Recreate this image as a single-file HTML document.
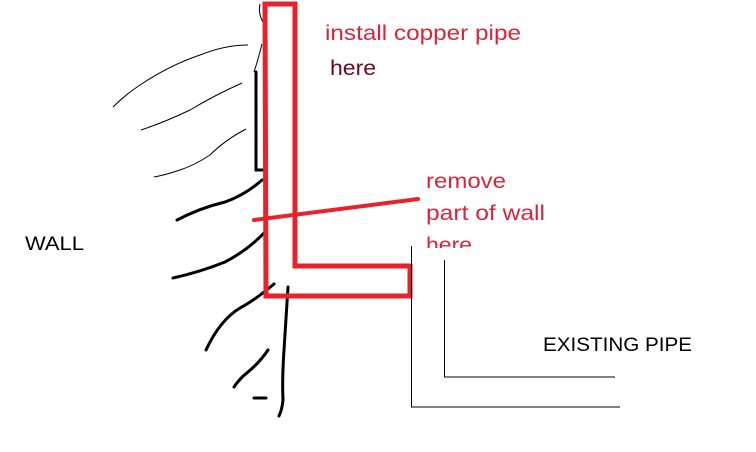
<!DOCTYPE html>
<html><head><style>
html,body{margin:0;padding:0;background:#fff;}
svg{display:block;}
text{font-family:"Liberation Sans","DejaVu Sans",sans-serif;}
</style></head><body>
<svg width="756" height="452" viewBox="0 0 756 452" xmlns="http://www.w3.org/2000/svg">
<rect width="756" height="452" fill="#fff"/>
<g fill="none" stroke="#000" stroke-width="1">
<path d="M260,4 Q258,14 263,22"/>
<path d="M248,45 Q225,45 200,55 Q170,65 140,85 Q125,95 113,107"/>
<path d="M242,83 Q215,95 190,110 Q165,122 141,130"/>
<path d="M246,129 Q225,140 210,155 Q195,165 180,170 Q165,175 154,177"/>
<path d="M262,44 Q258,60 254,72"/>
</g>
<g fill="none" stroke="#000" stroke-width="3" stroke-linecap="round">
<path d="M256,72 L256,170 L263,170"/>
<path d="M262,180 Q245,195 225,202 Q200,208 177,220"/>
<path d="M265,232 Q248,250 225,262 Q200,272 173,278"/>
<path d="M274,284 Q255,300 240,308 Q220,320 206,350"/>
<path d="M268,350 Q260,362 248,372 Q240,378 234,387"/>
<path d="M254,398 L266,398"/>
<path d="M288,287 Q286,320 284,350 Q282,380 283,400 Q282,410 279,416"/>
</g>
<path d="M265,4 L295,4 L295,266 L410,266 L410,296 L266,296 Z" fill="none" stroke="#e8212b" stroke-width="5"/>
<line x1="254" y1="220" x2="418" y2="199" stroke="#e8212b" stroke-width="4" stroke-linecap="round"/>
<g fill="none" stroke="#000" stroke-width="1">
<path d="M411.5,246 L411.5,407 L620,407"/>
<path d="M444.5,250 L444.5,377 L615,377"/>
</g>
<text x="325" y="40" font-size="21" fill="#d7263b" textLength="196" lengthAdjust="spacingAndGlyphs">install copper pipe</text>
<text x="330" y="75" font-size="21" fill="#6b0a1c" textLength="46" lengthAdjust="spacingAndGlyphs">here</text>
<text x="426" y="188" font-size="21" fill="#d7263b" textLength="80" lengthAdjust="spacingAndGlyphs">remove</text>
<text x="426" y="220" font-size="21" fill="#d7263b" textLength="119" lengthAdjust="spacingAndGlyphs">part of wall</text>
<text x="426" y="252" font-size="21" fill="#d7263b" textLength="46" lengthAdjust="spacingAndGlyphs">here</text>
<rect x="420" y="248" width="60" height="12" fill="#fff"/>
<text x="25" y="250" font-size="19" fill="#000" textLength="59" lengthAdjust="spacingAndGlyphs">WALL</text>
<text x="543" y="351" font-size="19" fill="#000" textLength="149" lengthAdjust="spacingAndGlyphs">EXISTING PIPE</text>
</svg>
</body></html>
